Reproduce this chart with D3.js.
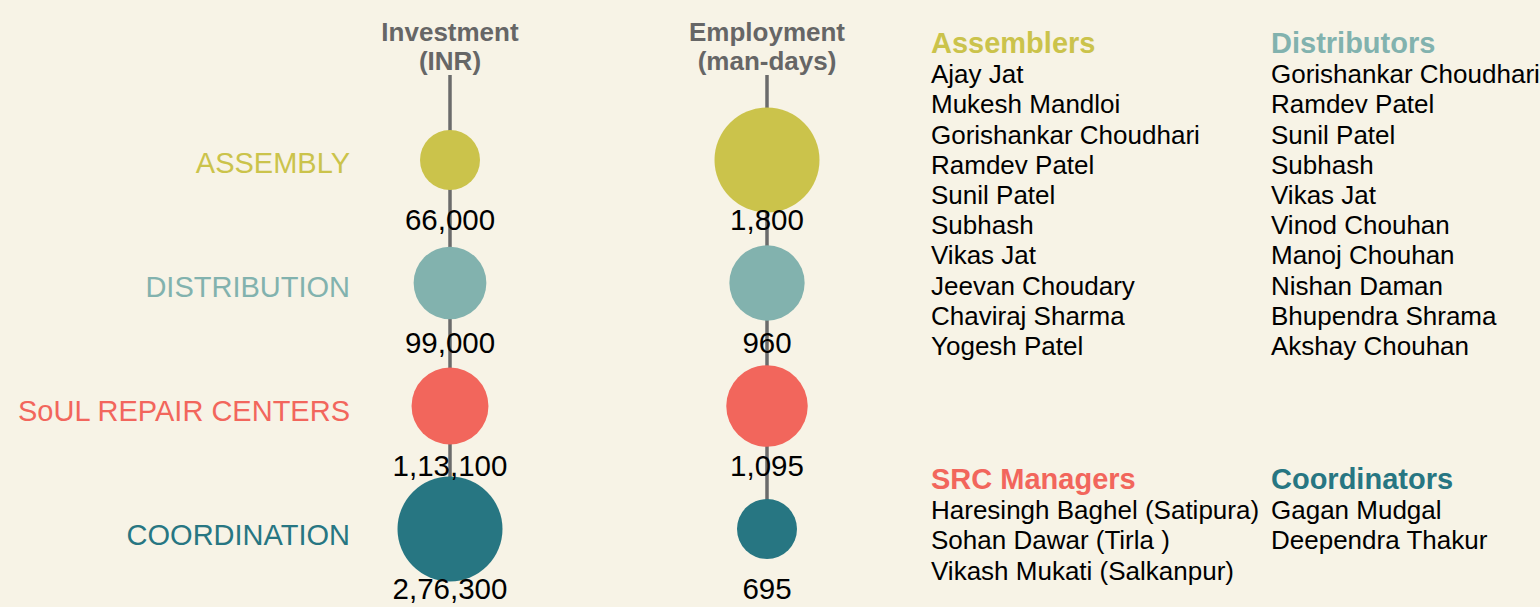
<!DOCTYPE html>
<html>
<head>
<meta charset="utf-8">
<script src="https://cdn.jsdelivr.net/npm/d3@7"></script>
<style>
  html, body { margin: 0; padding: 0; background: #f7f3e6; }
  svg { display: block; font-family: "Liberation Sans", Arial, sans-serif; }
</style>
</head>
<body>
<svg id="chart" width="1540" height="607"></svg>
<script>
const categories = ["ASSEMBLY", "DISTRIBUTION", "SoUL REPAIR CENTERS", "COORDINATION"];
const colors = ["#cbc34b", "#82b2ae", "#f2665c", "#277682"];
const investment = [66000, 99000, 113100, 276300];
const employment = [1800, 960, 1095, 695];
const investmentLabels = ["66,000", "99,000", "1,13,100", "2,76,300"];
const employmentLabels = ["1,800", "960", "1,095", "695"];

const assemblers = ["Ajay Jat", "Mukesh Mandloi", "Gorishankar Choudhari", "Ramdev Patel", "Sunil Patel",
  "Subhash", "Vikas Jat", "Jeevan Choudary", "Chaviraj Sharma", "Yogesh Patel"];
const distributors = ["Gorishankar Choudhari", "Ramdev Patel", "Sunil Patel", "Subhash", "Vikas Jat",
  "Vinod Chouhan", "Manoj Chouhan", "Nishan Daman", "Bhupendra Shrama", "Akshay Chouhan"];
const srcManagers = ["Haresingh Baghel (Satipura)", "Sohan Dawar (Tirla )", "Vikash Mukati (Salkanpur)"];
const coordinators = ["Gagan Mudgal", "Deependra Thakur"];

const svg = d3.select("#chart");

const y = d3.scalePoint().domain(categories).range([160, 529]);
// the row labels sit on a slightly wider spacing than the circles
const yLabel = d3.scalePoint().domain(categories).range([173, 545]);
const color = d3.scaleOrdinal().domain(categories).range(colors);

// category labels on the left
svg.append("g")
  .selectAll("text")
  .data(categories)
  .join("text")
  .attr("x", 350)
  .attr("y", (d) => yLabel(d))
  .attr("text-anchor", "end")
  .attr("font-size", 29)
  .attr("fill", (d) => color(d))
  .text((d) => d);

function drawColumn(cx, title, values, labels) {
  const r = d3.scaleLog().domain(d3.extent(values)).range([30, 52.5]);
  const g = svg.append("g");

  const head = g.append("text")
    .attr("text-anchor", "middle")
    .attr("font-size", 26)
    .attr("font-weight", "bold")
    .attr("fill", "#666666");
  head.append("tspan").attr("x", cx).attr("y", 41).text(title[0]);
  head.append("tspan").attr("x", cx).attr("y", 69.5).text(title[1]);

  g.append("line")
    .attr("x1", cx).attr("x2", cx)
    .attr("y1", 75).attr("y2", y(categories[categories.length - 1]))
    .attr("stroke", "#6b6b6b")
    .attr("stroke-width", 3.5);

  g.selectAll("circle")
    .data(categories)
    .join("circle")
    .attr("cx", cx)
    .attr("cy", (d) => y(d))
    .attr("r", (d, i) => r(values[i]))
    .attr("fill", (d) => color(d));

  g.selectAll(".num")
    .data(categories)
    .join("text")
    .attr("class", "num")
    .attr("x", cx)
    .attr("y", (d) => y(d) + 70)
    .attr("text-anchor", "middle")
    .attr("font-size", 29.5)
    .attr("fill", "#000")
    .text((d, i) => labels[i]);
}

drawColumn(450, ["Investment", "(INR)"], investment, investmentLabels);
drawColumn(767, ["Employment", "(man-days)"], employment, employmentLabels);

// name lists
const groups = [
  { title: "Assemblers", color: colors[0], names: assemblers, x: 931, y: 53 },
  { title: "Distributors", color: colors[1], names: distributors, x: 1271, y: 53 },
  { title: "SRC Managers", color: colors[2], names: srcManagers, x: 931, y: 489 },
  { title: "Coordinators", color: colors[3], names: coordinators, x: 1271, y: 489 }
];
const lineH = 30.2;

const lg = svg.append("g")
  .selectAll("g")
  .data(groups)
  .join("g")
  .attr("transform", (d) => `translate(${d.x},${d.y})`);

lg.append("text")
  .attr("font-size", 29)
  .attr("font-weight", "bold")
  .attr("fill", (d) => d.color)
  .text((d) => d.title);

lg.selectAll(".name")
  .data((d) => d.names)
  .join("text")
  .attr("class", "name")
  .attr("y", (d, i) => (i + 1) * lineH)
  .attr("font-size", 26)
  .attr("fill", "#000")
  .text((d) => d);
</script>
</body>
</html>
